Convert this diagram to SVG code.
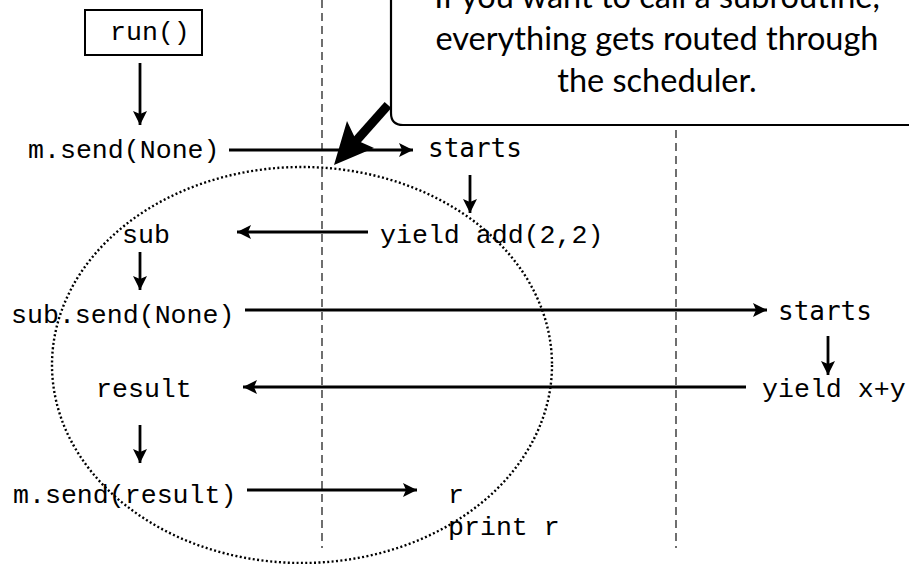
<svg xmlns="http://www.w3.org/2000/svg" width="909" height="564" viewBox="0 0 909 564">
<defs>
<marker id="ah" markerUnits="userSpaceOnUse" markerWidth="16" markerHeight="16" refX="14" refY="7" orient="auto">
<path d="M0,0 L14,7 L0,14 L3,7 z" fill="#000"/>
</marker>
<style>
.code{font-family:"Liberation Mono","Courier New",monospace;font-size:26.6px;fill:#000}
.dv{font-family:"DejaVu Sans Mono",monospace;font-size:26px;fill:#000}
.note{font-family:Lato,"Open Sans",sans-serif;font-size:32.5px;fill:#000;text-anchor:middle}
.arr{stroke:#000;stroke-width:2.8;fill:none;marker-end:url(#ah)}
.lane{stroke:#222;stroke-width:1.3;stroke-dasharray:8 5;fill:none}
</style>
</defs>
<rect width="909" height="564" fill="#fff"/>
<g id="lanes">
<line class="lane" x1="322" y1="0" x2="322" y2="548"/>
<line class="lane" x1="676" y1="130" x2="676" y2="548"/>
</g>
<g id="scope">
<ellipse cx="302" cy="365" rx="250" ry="198" fill="none" stroke="#000" stroke-width="2.4" stroke-dasharray="2 2.4"/>
</g>
<g id="connectors">
<line class="arr" x1="140" y1="63" x2="140" y2="125"/>
<line class="arr" x1="229" y1="150" x2="413" y2="150"/>
<line class="arr" x1="470" y1="175" x2="470" y2="213"/>
<line class="arr" x1="368" y1="232" x2="237" y2="232"/>
<line class="arr" x1="140" y1="252" x2="140" y2="290"/>
<line class="arr" x1="245" y1="310" x2="767" y2="310"/>
<line class="arr" x1="828" y1="336" x2="828" y2="375"/>
<line class="arr" x1="746" y1="387" x2="243" y2="387"/>
<line class="arr" x1="140" y1="425" x2="140" y2="463"/>
<line class="arr" x1="247" y1="490" x2="417" y2="490"/>
</g>
<g id="run">
<rect x="85" y="10" width="117" height="45" fill="#fff" stroke="#000" stroke-width="2"/>
<text class="code" x="110" y="40">run()</text>
</g>
<g id="m-send-none"><text class="code" x="28" y="158">m.send(None)</text></g>
<g id="starts-1"><text class="dv" x="428" y="157">starts</text></g>
<g id="yield-add"><text class="code" x="380" y="243">yield add(2,2)</text></g>
<g id="sub"><text class="code" x="122" y="243">sub</text></g>
<g id="sub-send"><text class="code" x="11" y="323">sub.send(None)</text></g>
<g id="starts-2"><text class="dv" x="778" y="320">starts</text></g>
<g id="yield-xy"><text class="code" x="762" y="397">yield x+y</text></g>
<g id="result"><text class="code" x="96" y="397">result</text></g>
<g id="m-send-result"><text class="code" x="13" y="503">m.send(result)</text></g>
<g id="r"><text class="code" x="448" y="503">r</text><text class="code" x="448" y="535">print r</text></g>
<g id="callout">
<path d="M391,-5 L391,113 Q391,125 403,125 L915,125" fill="#fff" stroke="#000" stroke-width="2.2"/>
<text class="note" x="657" y="8">If you want to call a subroutine,</text>
<text class="note" x="657" y="50">everything gets routed through</text>
<text class="note" x="657" y="92">the scheduler.</text>
<line x1="388" y1="105" x2="356" y2="141" stroke="#000" stroke-width="9"/>
<path d="M334,165 L347,121 L356,140 L374,148 z" fill="#000"/>
</g>
</svg>
